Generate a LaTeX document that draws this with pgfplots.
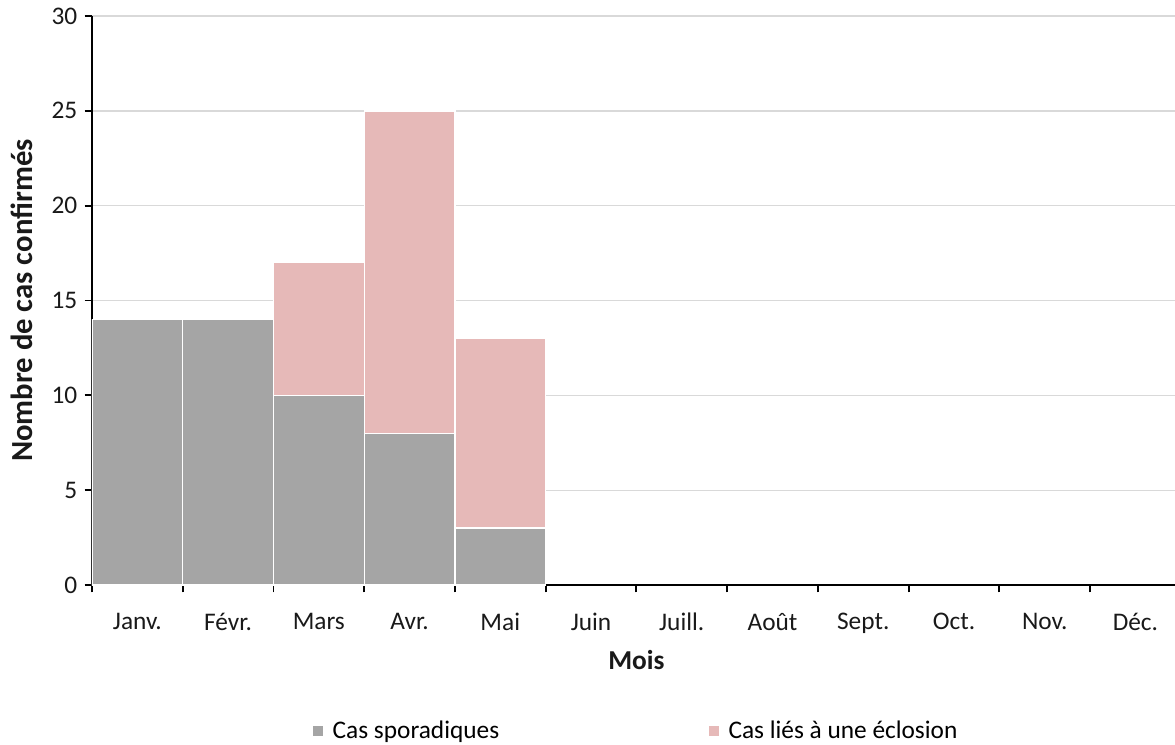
\documentclass[border=0pt]{standalone}
\usepackage{pgfplots}
\pgfplotsset{compat=1.18}
\usepackage{fontspec}
\setmainfont{Carlito}
\definecolor{sporad}{HTML}{A5A5A5}
\definecolor{eclos}{HTML}{E6B9B8}
\definecolor{gridc}{HTML}{D9D9D9}
\pgfplotsset{
  layers/barsbelow/.define layer set={
    axis background,axis grid,main,axis ticks,axis lines,axis tick labels,axis descriptions,axis foreground
  }{},
}
\begin{document}
\begin{tikzpicture}
\begin{axis}[
  set layers=barsbelow,
  at={(0,0)}, anchor=south west,
  scale only axis,
  width=816.6pt, height=426.75pt,
  xmin=-0.5, xmax=11.5,
  ymin=0, ymax=30,
  ybar stacked,
  bar width=1,
  axis x line=bottom, axis y line=left,
  axis line style={-, black, line width=1.4pt},
  xtick={0,...,11},
  xticklabels={Janv.,Févr.,Mars,Avr.,Mai,Juin,Juill.,Août,Sept.,Oct.,Nov.,Déc.},
  major x tick style={draw=none},
  minor xtick={-0.5,0.5,...,11.5},
  minor x tick style={black, line width=1.4pt},
  minor tick length=5.5pt,
  ytick={0,5,...,30},
  y tick style={black, line width=1.4pt},
  major tick length=5.5pt,
  tick align=outside,
  ymajorgrids,
  grid style={gridc, line width=1pt},
  /pgf/number format/assume math mode=true,
  tick label style={font=\fontsize{19}{22}\selectfont, text=black!90},
  xticklabel style={yshift=-12pt},
  yticklabel style={xshift=-2pt},
  xlabel={Mois},
  ylabel={Nombre de cas confirmés},
  xlabel style={font=\fontsize{20.5}{24}\selectfont\bfseries, text=black!90, at={(axis description cs:0.5,-0.132)}, anchor=center},
  ylabel style={font=\fontsize{23}{26}\selectfont\bfseries, text=black!90, at={(axis description cs:-0.064,0.5)}, anchor=center},
  legend columns=2,
  legend style={draw=none, at={(axis description cs:0.5,-0.2566)}, anchor=center,
    font=\fontsize{19}{22}\selectfont,
    /tikz/column 1/.style={column sep=5pt},
    /tikz/column 2/.style={column sep=155pt},
    /tikz/column 3/.style={column sep=5pt},
    cells={anchor=west}},
  legend image code/.code={\fill[#1, draw=none] (0pt,-4pt) rectangle (8pt,4pt);},
]
\addplot[fill=sporad, draw=white, line width=1pt] coordinates {(0,14) (1,14) (2,10) (3,8) (4,3)};
\addlegendentry{Cas sporadiques}
\addplot[fill=eclos, draw=white, line width=1pt] coordinates {(0,0) (1,0) (2,7) (3,17) (4,10)};
\addlegendentry{Cas liés à une éclosion}
\end{axis}
\pgfresetboundingbox
\path[use as bounding box] (-69pt,-119.25pt) rectangle (812.25pt,438.75pt);
\end{tikzpicture}
\end{document}
